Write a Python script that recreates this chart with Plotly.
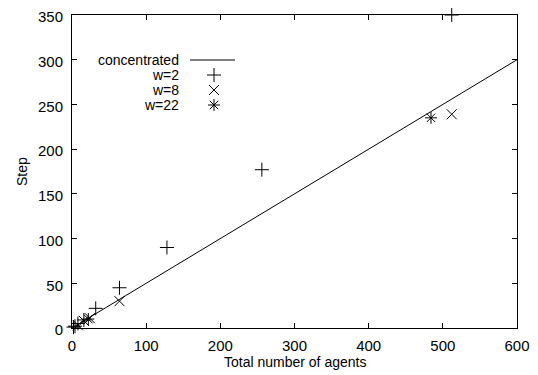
import plotly.graph_objects as go

# ---- data ----
conc_x = [0, 600]
conc_y = [0, 300]

w2_x = [2, 4, 8, 16, 32, 64, 128, 256, 512]
w2_y = [1, 2, 5, 9, 22, 45, 90, 177, 350]

w8_x = [8, 16, 24, 64, 512]
w8_y = [3, 8, 11, 30, 239]

w22_x = [22, 484]
w22_y = [10, 235]

legend_names = ["concentrated", "w=2", "w=8", "w=22"]
x_title = "Total number of agents"
y_title = "Step"

FONT = "Liberation Sans, Arial, Helvetica, sans-serif"
BLACK = "black"

# page pixel layout (browser body has an 8px margin)
OFF = 8
W, H = 538 - OFF, 375 - OFF
L, R, T, B = 72 - OFF, 517 - OFF, 15 - OFF, 328 - OFF


def px(xp):
    return (xp - OFF - L) / (R - L)


def py(yp):
    return (B - (yp - OFF)) / (B - T)


fig = go.Figure()

fig.add_trace(go.Scatter(x=conc_x, y=conc_y, mode="lines",
                         line=dict(color=BLACK, width=1), showlegend=False, cliponaxis=False))


def pts(x, y, sym):
    return go.Scatter(x=x, y=y, mode="markers", showlegend=False, cliponaxis=False,
                      marker=dict(symbol=sym, size=10, color=BLACK,
                                  line=dict(color=BLACK, width=1)))


fig.add_trace(pts(w2_x, w2_y, "cross-thin"))
fig.add_trace(pts(w8_x, w8_y, "x-thin"))
fig.add_trace(pts(w22_x, w22_y, "asterisk"))

# ---- manual gnuplot-style legend on an overlay pixel axis (page coords) ----
leg_y = [60, 75, 90, 105]
text_right = 181
sample_x0, sample_x1 = 190, 235
sample_mid = 214

fig.add_trace(go.Scatter(x=[sample_x0, sample_x1], y=[leg_y[0], leg_y[0]], mode="lines",
                         line=dict(color=BLACK, width=1), xaxis="x2", yaxis="y2",
                         showlegend=False, hoverinfo="skip", cliponaxis=False))
for yy, sym in zip(leg_y[1:], ["cross-thin", "x-thin", "asterisk"]):
    fig.add_trace(go.Scatter(x=[sample_mid], y=[yy], mode="markers", xaxis="x2", yaxis="y2",
                             showlegend=False, hoverinfo="skip", cliponaxis=False,
                             marker=dict(symbol=sym, size=10, color=BLACK,
                                         line=dict(color=BLACK, width=1))))
annotations = []
for yy, name in zip(leg_y, legend_names):
    annotations.append(dict(x=px(text_right), y=py(yy), xref="paper", yref="paper", text=name,
                            showarrow=False, xanchor="right", yanchor="middle",
                            font=dict(family=FONT, size=14, color=BLACK)))

# axis titles
annotations.append(dict(x=px(295), y=py(362), xref="paper", yref="paper",
                        text=x_title, showarrow=False, xanchor="center", yanchor="middle",
                        font=dict(family=FONT, size=14, color=BLACK)))
annotations.append(dict(x=px(22), y=py(172), xref="paper", yref="paper",
                        text=y_title, showarrow=False, textangle=-90,
                        xanchor="center", yanchor="middle",
                        font=dict(family=FONT, size=14, color=BLACK)))

axis_common = dict(showline=True, mirror="allticks", linecolor=BLACK, linewidth=1,
                   ticks="inside", ticklen=5, tickcolor=BLACK, tickwidth=1,
                   showgrid=False, zeroline=False, automargin=False,
                   ticklabeloverflow="allow",
                   tickfont=dict(family=FONT, size=15, color=BLACK))

fig.update_layout(
    width=W, height=H,
    margin=dict(l=L, r=W - R, t=T, b=H - B, autoexpand=False),
    paper_bgcolor="white", plot_bgcolor="white",
    font=dict(family=FONT, size=14, color=BLACK),
    xaxis=dict(range=[0, 600], tickvals=[0, 100, 200, 300, 400, 500, 600],
               ticklabelstandoff=4, **axis_common),
    yaxis=dict(range=[0, 350], tickvals=[0, 50, 100, 150, 200, 250, 300, 350],
               ticklabelstandoff=5, ticklabelshift=2, **axis_common),
    xaxis2=dict(range=[L + OFF, R + OFF], overlaying="x", visible=False, fixedrange=True),
    yaxis2=dict(range=[B + OFF, T + OFF], overlaying="y", visible=False, fixedrange=True),
    annotations=annotations,
    showlegend=False,
)

fig.write_html("out.html")
